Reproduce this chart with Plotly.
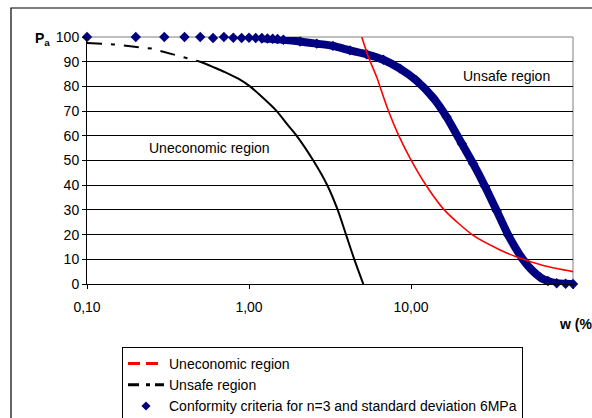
import plotly.graph_objects as go

# ---- data ----
tick_vals = [0.1, 1, 10, 100]
tick_text = ["0,10", "1,00", "10,00", "100,00"]
y_ticks = [0, 10, 20, 30, 40, 50, 60, 70, 80, 90, 100]

# Conformity criteria (n=3, sd 6 MPa): separated markers at low w
blue_marker_x = [0.1, 0.2, 0.3, 0.4, 0.5, 0.6, 0.7, 0.8, 0.9, 1.0, 1.1, 1.2, 1.3, 1.4, 1.5]
blue_marker_y = [100, 100, 100, 100, 100, 99.6, 100, 99.7, 99.6, 99.7, 99.6, 99.5, 99.4, 99.3, 99.2]
# dense band of the same series at higher w
blue_band_x = [1.2, 1.63, 2.07, 2.62, 3.3, 4.2, 5.33, 6.75, 8.55, 10.8, 13.7, 16.6, 20.6,
               24.2, 28.6, 33.8, 39.9, 49.3, 56, 62.5, 70, 79.3, 90, 100]
blue_band_y = [99.5, 98.9, 98.2, 97.3, 96.4, 94.6, 93.0, 90.8, 87.2, 82.4, 75.4, 67.6, 56.8,
               48.7, 39.6, 29.7, 19.7, 9.8, 5.5, 2.8, 1.2, 0.3, 0.1, 0]

# black curve (legend: "Unsafe region")
black_x = [0.1, 0.145, 0.25, 0.375, 0.5, 0.711, 0.859, 1.014, 1.141, 1.483, 1.709, 1.97,
           2.494, 3.043, 3.528, 3.971, 4.467, 5.077]
black_y = [97.6, 97.0, 95.3, 92.3, 90.0, 85.8, 83.1, 80.0, 77.1, 70.0, 64.9, 60.0,
           50.0, 40.0, 30.0, 20.0, 10.0, 0]
black_dashed_count = 5  # first points drawn dashed as in the picture

# red curve (legend: "Uneconomic region")
red_x = [4.97, 5.45, 6.14, 7.08, 8.35, 9.86, 12.5, 16.2, 24.2, 35, 45.0, 65.6, 100]
red_y = [100, 92, 83.8, 72, 60.5, 51, 39.6, 29.7, 19.7, 14, 10.9, 7.5, 5.0]

legend_names = ["Uneconomic region", "Unsafe region",
                "Conformity criteria for n=3 and standard deviation 6MPa"]

NAVY = "#000080"
FONT = "Liberation Sans, Arial, sans-serif"

fig = go.Figure()

# blue band + markers
fig.add_trace(go.Scatter(x=blue_band_x, y=blue_band_y, mode="lines+markers",
                         line=dict(color=NAVY, width=8, shape="spline", smoothing=0.6),
                         marker=dict(symbol="diamond", size=8, color=NAVY),
                         showlegend=False, cliponaxis=False, hoverinfo="skip"))
fig.add_trace(go.Scatter(x=blue_marker_x, y=blue_marker_y, mode="markers",
                         marker=dict(symbol="diamond", size=8, color=NAVY),
                         showlegend=False, cliponaxis=False))

# black curve: dashed start, then solid
fig.add_trace(go.Scatter(x=black_x[:black_dashed_count], y=black_y[:black_dashed_count],
                         mode="lines", line=dict(color="black", width=2, dash="15px,9px,4px,9px"),
                         showlegend=False))
fig.add_trace(go.Scatter(x=black_x[black_dashed_count - 1:], y=black_y[black_dashed_count - 1:],
                         mode="lines", line=dict(color="black", width=2, shape="spline", smoothing=0.8),
                         showlegend=False))

# red curve
fig.add_trace(go.Scatter(x=red_x, y=red_y, mode="lines",
                         line=dict(color="#FF0000", width=1.6, shape="spline", smoothing=0.7),
                         showlegend=False))

# legend entries
fig.add_trace(go.Scatter(x=[None], y=[None], mode="lines", name=legend_names[0],
                         line=dict(color="#FF0000", width=3, dash="12px,6px")))
fig.add_trace(go.Scatter(x=[None], y=[None], mode="lines", name=legend_names[1],
                         line=dict(color="black", width=3, dash="11px,7px,4px,5px")))
fig.add_trace(go.Scatter(x=[None], y=[None], mode="markers", name=legend_names[2],
                         marker=dict(symbol="diamond", size=7, color=NAVY)))

W, H = 592, 418
L, R, T, B = 87, 19, 37, 134
pw, ph = W - L - R, H - T - B


def px_x(px):
    return (px - L) / pw


def px_y(py):
    return (H - B - py) / ph


fig.update_layout(
    width=W, height=H,
    margin=dict(l=L, r=R, t=T, b=B, autoexpand=False),
    paper_bgcolor="white", plot_bgcolor="white",
    font=dict(family=FONT, size=14, color="black"),
    xaxis=dict(type="log", range=[-1, 2], tickvals=tick_vals, ticktext=tick_text,
               showgrid=False, showline=True, linecolor="black", linewidth=1,
               ticks="outside", ticklen=4, tickcolor="black", zeroline=False,
               ticklabelstandoff=6, tickfont=dict(size=14)),
    yaxis=dict(range=[0, 100], tickvals=y_ticks, showgrid=True, gridcolor="black",
               gridwidth=1, showline=True, linecolor="black", linewidth=1,
               ticks="outside", ticklen=4, tickcolor="black", zeroline=False,
               tickfont=dict(size=14)),
    legend=dict(x=px_x(122), y=px_y(347), xanchor="left", yanchor="top",
                bordercolor="black", borderwidth=1, bgcolor="white",
                font=dict(size=14), tracegroupgap=0, itemwidth=36),
    shapes=[
        dict(type="rect", xref="paper", yref="paper", x0=px_x(11), x1=px_x(640),
             y0=px_y(470), y1=px_y(8), line=dict(color="black", width=1.2)),
        dict(type="line", xref="paper", yref="paper", x0=1, x1=1, y0=0, y1=1,
             line=dict(color="#808080", width=1), layer="between"),
        dict(type="line", xref="paper", yref="paper", x0=0, x1=1, y0=1, y1=1,
             line=dict(color="#808080", width=1), layer="between"),
    ],
    annotations=[
        dict(text="<b>P</b><sub><b>a</b></sub>", xref="paper", yref="paper",
             x=px_x(52), y=px_y(39), xanchor="right", yanchor="middle",
             showarrow=False, font=dict(size=14)),
        dict(text="<b>w (%)</b>", xref="paper", yref="paper",
             x=px_x(557), y=px_y(324), xanchor="left", yanchor="middle",
             showarrow=False, font=dict(size=14)),
        dict(text="Uneconomic region", xref="paper", yref="paper",
             x=px_x(209.5), y=px_y(148.3), xanchor="center", yanchor="middle",
             showarrow=False, font=dict(size=14)),
        dict(text="Unsafe region", xref="paper", yref="paper",
             x=px_x(506), y=px_y(75.7), xanchor="center", yanchor="middle",
             showarrow=False, font=dict(size=14)),
    ],
)

fig.write_html("out.html")
